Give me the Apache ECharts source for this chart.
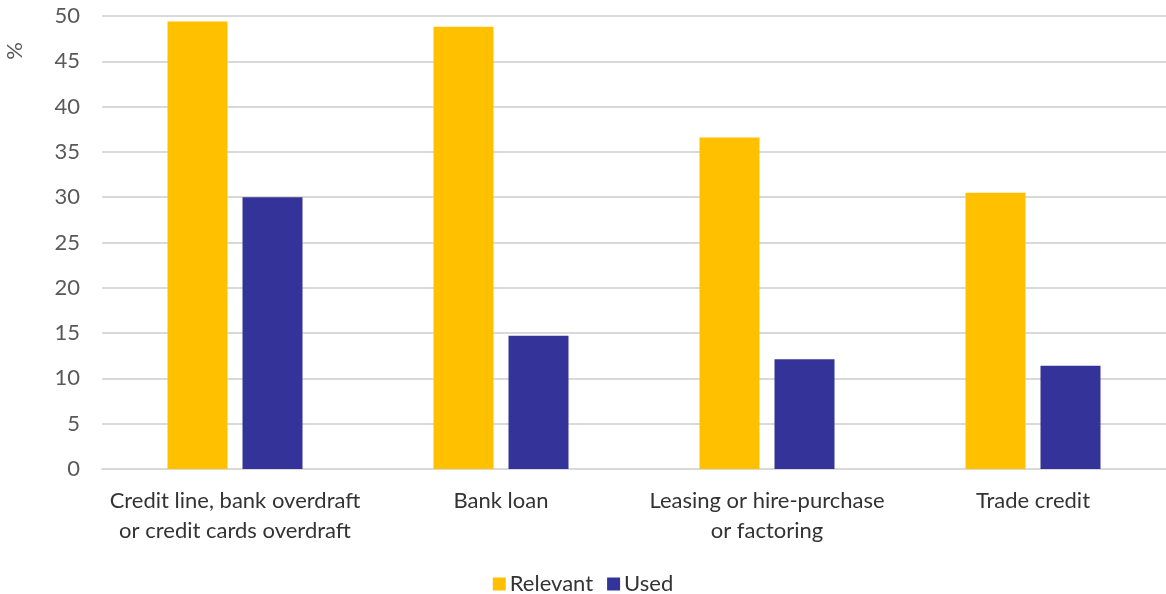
<!DOCTYPE html>
<html><head><meta charset="utf-8">
<script src="https://cdn.jsdelivr.net/npm/echarts@6/dist/echarts.min.js"></script>
<style>html,body{margin:0;padding:0;background:#fff}#c{width:1166px;height:594px}</style>
</head><body><div id="c"></div>
<script>
const categories = ["Credit line, bank overdraft\nor credit cards overdraft", "Bank loan", "Leasing or hire-purchase\nor factoring", "Trade credit"];
const relevant = [49.4, 48.8, 36.6, 30.5];
const used = [30.0, 14.7, 12.1, 11.4];
const yTicks = {min: 0, max: 50, interval: 5};
const yUnit = '%';
const FONT = "Lato";
const chart = echarts.init(document.getElementById('c'));
chart.setOption({
  animation: false,
  textStyle: {fontFamily: FONT},
  grid: {left: 102, right: 0, top: 16, bottom: 125, containLabel: false},
  graphic: [{
    type: 'text', left: 4, top: 42, rotation: Math.PI / 2,
    style: {text: yUnit, fontSize: 22, fill: '#595959', fontFamily: FONT}
  }],
  legend: {
    top: 568, left: 'center', itemWidth: 13, itemHeight: 13, itemGap: 14,
    icon: 'rect',
    textStyle: {fontSize: 22, color: '#333', fontFamily: FONT, padding: [0, 0, 0, -1]},
    data: ['Relevant', 'Used']
  },
  xAxis: {
    type: 'category', data: categories,
    axisLine: {lineStyle: {color: '#d9d9d9', width: 2}},
    axisTick: {show: false},
    axisLabel: {interval: 0, fontSize: 22, color: '#333', lineHeight: 30, margin: 17, fontFamily: FONT}
  },
  yAxis: {
    type: 'value', min: yTicks.min, max: yTicks.max, interval: yTicks.interval,
    axisLine: {show: false}, axisTick: {show: false},
    splitLine: {lineStyle: {color: '#d9d9d9', width: 2}},
    axisLabel: {fontSize: 22, color: '#595959', margin: 22, fontFamily: FONT}
  },
  series: [
    {name: 'Relevant', type: 'bar', data: relevant, barWidth: 60, barGap: '25%', itemStyle: {color: '#FFC000'}},
    {name: 'Used', type: 'bar', data: used, barWidth: 60, barGap: '25%', itemStyle: {color: '#333399'}}
  ]
});
</script></body></html>
